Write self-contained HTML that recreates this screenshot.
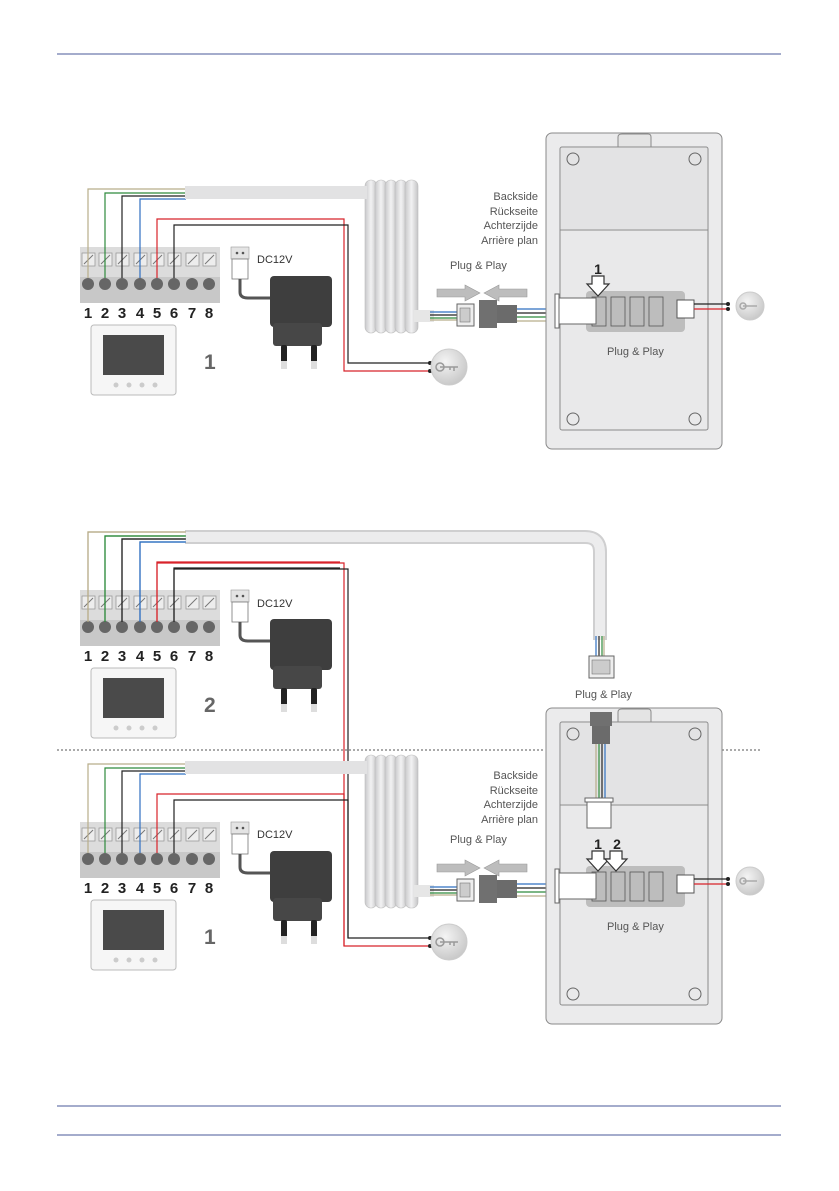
<!DOCTYPE html>
<html><head><meta charset="utf-8"><style>
html,body{margin:0;padding:0;background:#fff;}
svg{display:block;font-family:"Liberation Sans",sans-serif;}
</style></head><body>
<svg width="839" height="1191" viewBox="0 0 839 1191" xmlns="http://www.w3.org/2000/svg">
<defs>
<linearGradient id="tube" x1="0" x2="1" y1="0" y2="0"><stop offset="0" stop-color="#c9c9cb"/><stop offset="0.5" stop-color="#f2f2f3"/><stop offset="1" stop-color="#c4c4c6"/></linearGradient>
<radialGradient id="keyg" cx="0.4" cy="0.35" r="0.7"><stop offset="0" stop-color="#f4f4f4"/><stop offset="1" stop-color="#c6c6c6"/></radialGradient>
<g id="left">
  <rect x="80" y="247" width="140" height="30" fill="#dcdcdc"/>
  <rect x="80" y="277" width="140" height="26" fill="#c8c8c8"/>
  <g fill="#ededed" stroke="#9a9a9a" stroke-width="0.8">
    <rect x="82" y="253" width="13" height="13"/><rect x="99" y="253" width="13" height="13"/><rect x="116" y="253" width="13" height="13"/><rect x="134" y="253" width="13" height="13"/><rect x="151" y="253" width="13" height="13"/><rect x="168" y="253" width="13" height="13"/><rect x="186" y="253" width="13" height="13"/><rect x="203" y="253" width="13" height="13"/>
  </g>
  <g stroke="#777" stroke-width="1">
    <line x1="84" y1="264" x2="93" y2="255"/><line x1="101" y1="264" x2="110" y2="255"/><line x1="118" y1="264" x2="127" y2="255"/><line x1="136" y1="264" x2="145" y2="255"/><line x1="153" y1="264" x2="162" y2="255"/><line x1="170" y1="264" x2="179" y2="255"/><line x1="188" y1="264" x2="197" y2="255"/><line x1="205" y1="264" x2="214" y2="255"/>
  </g>
  <g fill="#666"><circle cx="88" cy="284" r="6"/><circle cx="105" cy="284" r="6"/><circle cx="122" cy="284" r="6"/><circle cx="140" cy="284" r="6"/><circle cx="157" cy="284" r="6"/><circle cx="174" cy="284" r="6"/><circle cx="192" cy="284" r="6"/><circle cx="209" cy="284" r="6"/></g>
  <rect x="91" y="325" width="85" height="70" rx="3" fill="#f6f6f6" stroke="#bbb"/>
  <rect x="103" y="335" width="61" height="40" fill="#4a4a4a"/>
  <g fill="#ccc"><circle cx="116" cy="385" r="2.5"/><circle cx="129" cy="385" r="2.5"/><circle cx="142" cy="385" r="2.5"/><circle cx="155" cy="385" r="2.5"/></g>
  <rect x="231" y="247" width="18" height="12" fill="#e4e4e4" stroke="#999" stroke-width="0.6"/>
  <circle cx="237" cy="253" r="1.3" fill="#555"/><circle cx="243" cy="253" r="1.3" fill="#555"/>
  <rect x="232" y="259" width="16" height="20" fill="#fff" stroke="#777" stroke-width="0.8"/>
  <path d="M240 279 V292 Q240 298 248 298 H272" fill="none" stroke="#555" stroke-width="3"/>
  <rect x="270" y="276" width="62" height="51" rx="4" fill="#3e3e3e"/>
  <rect x="273" y="323" width="49" height="23" rx="3" fill="#474747"/>
  <rect x="281" y="345" width="6" height="24" rx="2" fill="#222"/><rect x="311" y="345" width="6" height="24" rx="2" fill="#222"/>
  <rect x="281" y="361" width="6" height="8" fill="#ddd"/><rect x="311" y="361" width="6" height="8" fill="#ddd"/>
  <g fill="none" stroke-width="1.2">
    <path d="M88 278 V189 H186" stroke="#b8ad8a"/>
    <path d="M105 278 V193 H186" stroke="#2e8a3c"/>
    <path d="M122 278 V196 H186" stroke="#222"/>
    <path d="M140 278 V199 H186" stroke="#2f6fc0"/>
    <path d="M157 278 V219 H344 V371 H430" stroke="#d8232a"/>
    <path d="M174 278 V225 H348 V363 H430" stroke="#222"/>
  </g>
  <circle cx="430" cy="363" r="2" fill="#222"/><circle cx="430" cy="371" r="2" fill="#222"/>
  <circle cx="449" cy="367" r="18" fill="url(#keyg)" stroke="#ccc"/>
  <path d="M440 367 h18 m-4 0 v4 m-4 -4 v3" stroke="#999" stroke-width="1.5" fill="none"/><circle cx="440" cy="367" r="4" fill="none" stroke="#999" stroke-width="1.5"/>
  <g fill="url(#tube)" stroke="#bdbdbd" stroke-width="0.6">
    <rect x="365" y="180" width="12" height="153" rx="6"/><rect x="375" y="180" width="12" height="153" rx="6"/><rect x="385" y="180" width="12" height="153" rx="6"/><rect x="395" y="180" width="12" height="153" rx="6"/><rect x="405" y="180" width="13" height="153" rx="6"/>
  </g>
  <rect x="414" y="310" width="20" height="12" fill="#e6e6e6"/>
  <g stroke-width="1.2" fill="none"><path d="M430 312 H458" stroke="#2f6fc0"/><path d="M430 315 H458" stroke="#222"/><path d="M430 318 H458" stroke="#2e8a3c"/><path d="M430 320 H458" stroke="#b8ad8a"/></g>
  <rect x="457" y="304" width="17" height="22" fill="#eee" stroke="#666"/>
  <rect x="460" y="308" width="10" height="14" fill="#ccc" stroke="#777" stroke-width="0.6"/>
  <rect x="479" y="300" width="18" height="28" fill="#707070"/>
  <rect x="497" y="305" width="20" height="18" fill="#6b6b6b"/>
  <g stroke-width="1.2"><line x1="517" y1="309" x2="557" y2="309" stroke="#2f6fc0"/><line x1="517" y1="313" x2="557" y2="313" stroke="#222"/><line x1="517" y1="317" x2="557" y2="317" stroke="#2e8a3c"/><line x1="517" y1="321" x2="557" y2="321" stroke="#b8ad8a"/></g>
  <path d="M437 289 H465 V285 L480 293 L465 301 V297 H437 Z" fill="#bdbdbd" stroke="#999" stroke-width="0.6"/>
  <path d="M527 289 H499 V285 L484 293 L499 301 V297 H527 Z" fill="#bdbdbd" stroke="#999" stroke-width="0.6"/>
  <rect x="546" y="133" width="176" height="316" rx="6" fill="#ebebec" stroke="#8a8a8a"/>
  <path d="M618 147 V137 Q618 134 622 134 H648 Q651 134 651 137 V147" fill="#e4e4e4" stroke="#8a8a8a"/>
  <rect x="560" y="147" width="148" height="283" rx="2" fill="#e9e9ea" stroke="#8a8a8a"/>
  <line x1="560" y1="230" x2="708" y2="230" stroke="#8a8a8a"/>
  <rect x="561" y="148" width="146" height="81" fill="#e3e3e4"/>
  <g fill="none" stroke="#666"><circle cx="573" cy="159" r="6"/><circle cx="695" cy="159" r="6"/><circle cx="573" cy="419" r="6"/><circle cx="695" cy="419" r="6"/></g>
  <rect x="586" y="291" width="99" height="41" rx="4" fill="#bdbdbd"/>
  <g fill="none" stroke="#555" stroke-width="0.8"><rect x="592" y="297" width="14" height="29"/><rect x="611" y="297" width="14" height="29"/><rect x="630" y="297" width="14" height="29"/><rect x="649" y="297" width="14" height="29"/></g>
  <rect x="557" y="298" width="39" height="26" fill="#fff" stroke="#666"/>
  <rect x="555" y="294" width="4" height="34" fill="#fff" stroke="#666"/>
  <rect x="677" y="300" width="17" height="18" fill="#fff" stroke="#555"/>
  <line x1="694" y1="304" x2="728" y2="304" stroke="#222" stroke-width="1.2"/><line x1="694" y1="309" x2="728" y2="309" stroke="#d8232a" stroke-width="1.2"/>
  <circle cx="728" cy="304" r="2" fill="#222"/><circle cx="728" cy="309" r="2" fill="#222"/>
  <circle cx="750" cy="306" r="14" fill="url(#keyg)" stroke="#ccc"/>
  <path d="M743 306 h14" stroke="#aaa" stroke-width="1.5"/><circle cx="743" cy="306" r="3" fill="none" stroke="#aaa" stroke-width="1.5"/>
</g>
<g id="arr"><path d="M-6 0 H6 V8 H11 L0 20 L-11 8 H-6 Z" fill="#fff" stroke="#333" stroke-width="1.2"/></g>
</defs>

<line x1="57" y1="54" x2="781" y2="54" stroke="#4a5a9a" stroke-width="1"/>

<use href="#left"/>
<rect x="185" y="186" width="182" height="13" fill="#e2e2e3"/>
<use href="#arr" x="598" y="276"/>
<g font-size="11" fill="#555" text-anchor="end">
<text x="538" y="200">Backside</text><text x="538" y="215">Rückseite</text><text x="538" y="229">Achterzijde</text><text x="538" y="244">Arrière plan</text></g>
<text x="450" y="269" font-size="11" fill="#555">Plug &amp; Play</text>
<text x="607" y="355" font-size="11" fill="#555">Plug &amp; Play</text>
<text x="598" y="274" font-size="14" font-weight="bold" fill="#222" text-anchor="middle">1</text>
<text x="257" y="263" font-size="11" fill="#333">DC12V</text>
<g font-size="15" font-weight="bold" fill="#222" text-anchor="middle"><text x="88" y="318">1</text><text x="105" y="318">2</text><text x="122" y="318">3</text><text x="140" y="318">4</text><text x="157" y="318">5</text><text x="174" y="318">6</text><text x="192" y="318">7</text><text x="209" y="318">8</text></g>
<text x="204" y="369" font-size="21" font-weight="bold" fill="#666">1</text>

<svg x="0" y="343" width="340" height="420" viewBox="0 0 340 420" overflow="hidden"><use href="#left"/></svg>
<path d="M185 537 H585 Q600 537 600 552 V640" fill="none" stroke="#cfcfd0" stroke-width="14"/>
<path d="M185 537 H585 Q600 537 600 552 V640" fill="none" stroke="#ececed" stroke-width="10"/>
<g fill="none" stroke-width="1.2">
  <path d="M88 622 V532 H186" stroke="#b8ad8a"/>
  <path d="M105 622 V536 H186" stroke="#2e8a3c"/>
  <path d="M122 622 V539 H186" stroke="#222"/>
  <path d="M140 622 V542 H186" stroke="#2f6fc0"/>
  <path d="M157 622 V563 H344 V946" stroke="#d8232a"/>
  <path d="M174 622 V569 H348 V938" stroke="#222"/>
  <path d="M596 636 V657" stroke="#2f6fc0"/><path d="M599 636 V657" stroke="#222"/><path d="M602 636 V657" stroke="#2e8a3c"/><path d="M604 636 V657" stroke="#b8ad8a"/>
</g>
<rect x="589" y="656" width="25" height="22" fill="#eee" stroke="#666"/>
<rect x="592" y="660" width="18" height="14" fill="#ccc" stroke="#777" stroke-width="0.6"/>
<text x="575" y="698" font-size="11" fill="#555">Plug &amp; Play</text>
<g font-size="11" fill="#333"><text x="257" y="607">DC12V</text></g>
<g font-size="15" font-weight="bold" fill="#222" text-anchor="middle"><text x="88" y="661">1</text><text x="105" y="661">2</text><text x="122" y="661">3</text><text x="140" y="661">4</text><text x="157" y="661">5</text><text x="174" y="661">6</text><text x="192" y="661">7</text><text x="209" y="661">8</text></g>
<text x="204" y="712" font-size="21" font-weight="bold" fill="#666">2</text>

<line x1="57" y1="750" x2="545" y2="750" stroke="#555" stroke-dasharray="2,2"/>
<line x1="722" y1="750" x2="760" y2="750" stroke="#555" stroke-dasharray="2,2"/>

<use href="#left" y="575"/>
<rect x="185" y="761" width="182" height="13" fill="#e2e2e3"/>
<rect x="590" y="712" width="22" height="14" fill="#707070"/>
<rect x="592" y="726" width="18" height="18" fill="#6b6b6b"/>
<g stroke-width="1.2"><line x1="596" y1="744" x2="596" y2="798" stroke="#b8ad8a"/><line x1="599" y1="744" x2="599" y2="798" stroke="#2e8a3c"/><line x1="602" y1="744" x2="602" y2="798" stroke="#222"/><line x1="605" y1="744" x2="605" y2="798" stroke="#2f6fc0"/></g>
<rect x="585" y="798" width="28" height="4" fill="#fff" stroke="#666"/>
<rect x="587" y="802" width="24" height="26" fill="#fff" stroke="#666"/>
<use href="#arr" x="598" y="851"/>
<use href="#arr" x="616" y="851"/>
<g font-size="11" fill="#555" text-anchor="end">
<text x="538" y="779">Backside</text><text x="538" y="794">Rückseite</text><text x="538" y="808">Achterzijde</text><text x="538" y="823">Arrière plan</text></g>
<text x="450" y="843" font-size="11" fill="#555">Plug &amp; Play</text>
<text x="607" y="930" font-size="11" fill="#555">Plug &amp; Play</text>
<text x="598" y="849" font-size="14" font-weight="bold" fill="#222" text-anchor="middle">1</text>
<text x="617" y="849" font-size="14" font-weight="bold" fill="#222" text-anchor="middle">2</text>
<text x="257" y="838" font-size="11" fill="#333">DC12V</text>
<g font-size="15" font-weight="bold" fill="#222" text-anchor="middle"><text x="88" y="893">1</text><text x="105" y="893">2</text><text x="122" y="893">3</text><text x="140" y="893">4</text><text x="157" y="893">5</text><text x="174" y="893">6</text><text x="192" y="893">7</text><text x="209" y="893">8</text></g>
<text x="204" y="944" font-size="21" font-weight="bold" fill="#666">1</text>

<line x1="57" y1="1106" x2="781" y2="1106" stroke="#4a5a9a" stroke-width="1"/>
<line x1="57" y1="1135" x2="781" y2="1135" stroke="#4a5a9a" stroke-width="1"/>
</svg>
</body></html>
